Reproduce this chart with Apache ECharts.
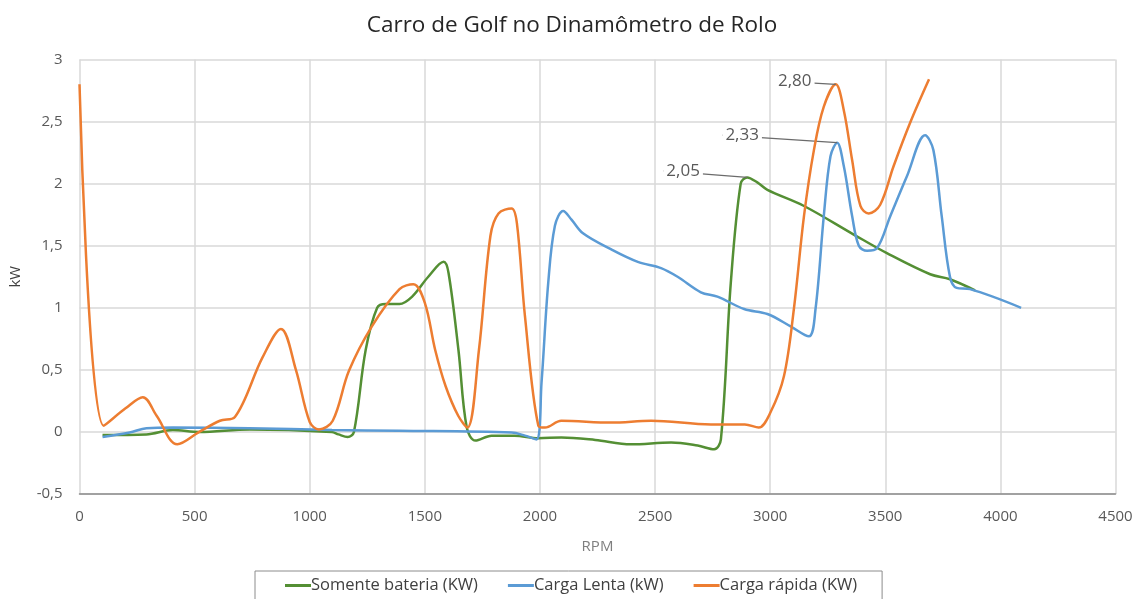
<!DOCTYPE html>
<html>
<head>
<meta charset="utf-8">
<script src="https://cdn.jsdelivr.net/npm/echarts@6/dist/echarts.min.js"></script>
<style>
  html, body { margin: 0; padding: 0; background: #fff; }
  #main { width: 1144px; height: 599px; }
</style>
</head>
<body>
<div id="main"></div>
<script>
// valores (RPM, kW)
const seriesNames = ['Somente bateria (KW)', 'Carga Lenta (kW)', 'Carga rápida (KW)'];
const xTicks = [0, 500, 1000, 1500, 2000, 2500, 3000, 3500, 4000, 4500];
const yTicks = [-0.5, 0, 0.5, 1, 1.5, 2, 2.5, 3];

const bateriaRpm = [100, 290, 405, 520, 740, 1095, 1125, 1165, 1192, 1243, 1293, 1330, 1390, 1445, 1515, 1582, 1603, 1646, 1682, 1720, 1790, 1890, 1993, 2093, 2240, 2395, 2570, 2685, 2757, 2786, 2829, 2872, 2900, 2944, 2988, 3147, 3363, 3507, 3695, 3781, 3890];
const bateriaKw = [-0.025, -0.02, 0.015, 0.0, 0.02, 0.0, -0.02, -0.04, 0.0, 0.66, 1.0, 1.03, 1.03, 1.09, 1.25, 1.37, 1.28, 0.66, 0.035, -0.07, -0.03, -0.03, -0.05, -0.045, -0.065, -0.10, -0.085, -0.11, -0.14, -0.06, 1.2, 2.0, 2.05, 2.01, 1.95, 1.82, 1.59, 1.44, 1.27, 1.23, 1.14];

const lentaRpm = [100, 218, 291, 406, 738, 1097, 1387, 1877, 1935, 1985, 2007, 2036, 2065, 2101, 2137, 2187, 2310, 2425, 2526, 2598, 2699, 2771, 2887, 2988, 3089, 3168, 3197, 3233, 3262, 3291, 3320, 3356, 3385, 3421, 3464, 3522, 3594, 3673, 3709, 3745, 3781, 3810, 3868, 4090];
const lentaKw = [-0.04, -0.005, 0.03, 0.035, 0.03, 0.015, 0.01, -0.005, -0.03, -0.06, 0.4, 1.2, 1.66, 1.78, 1.71, 1.60, 1.47, 1.37, 1.32, 1.25, 1.125, 1.09, 0.99, 0.95, 0.85, 0.77, 0.99, 1.74, 2.22, 2.33, 2.14, 1.74, 1.50, 1.46, 1.48, 1.74, 2.06, 2.39, 2.27, 1.74, 1.25, 1.16, 1.15, 1.0];

const rapidaRpm = [0, 105, 200, 275, 335, 425, 520, 610, 675, 795, 875, 940, 1000, 1040, 1100, 1170, 1270, 1390, 1450, 1500, 1545, 1590, 1645, 1685, 1735, 1785, 1820, 1877, 1900, 1935, 1993, 2022, 2093, 2310, 2483, 2743, 2890, 2950, 3002, 3060, 3103, 3147, 3190, 3233, 3285, 3320, 3356, 3392, 3428, 3478, 3536, 3608, 3690];
const rapidaKw = [2.80, 0.05, 0.19, 0.28, 0.13, -0.10, 0.0, 0.09, 0.12, 0.60, 0.83, 0.50, 0.08, 0.02, 0.09, 0.49, 0.85, 1.15, 1.19, 1.04, 0.66, 0.37, 0.13, 0.035, 0.66, 1.58, 1.76, 1.80, 1.68, 0.93, 0.05, 0.035, 0.09, 0.075, 0.09, 0.06, 0.06, 0.035, 0.16, 0.45, 0.99, 1.74, 2.27, 2.62, 2.80, 2.59, 2.19, 1.82, 1.76, 1.83, 2.14, 2.49, 2.84];

// pontos rotulados (índice no array)
const bateriaLabelIdx = 32;
const lentaLabelIdx = 29;
const rapidaLabelIdx = 44;

const fmt = v => String(v).replace('.', ',');
const fmt2 = v => v.toFixed(2).replace('.', ',');

function pairs(xs, ys, labelIdx) {
  return xs.map((x, i) => {
    if (i !== labelIdx) return [x, ys[i]];
    return {
      value: [x, ys[i]],
      label: { show: true, position: 'top', formatter: p => fmt2(p.value[1]) },
      labelLine: { show: true }
    };
  });
}

const myChart = echarts.init(document.getElementById('main'));
const textColor = '#595959';
const font = 'Open Sans';

const labelCommon = {
  show: false,
  color: textColor,
  fontSize: 17,
  fontFamily: font,
  distance: 0,
  backgroundColor: '#fff',
  padding: [0, 3]
};

function lineSeries(name, color, xs, ys, idx, dx, dy, z) {
  return {
    name: name,
    type: 'line',
    smooth: 0.35,
    symbol: 'circle',
    symbolSize: 0,
    showSymbol: true,
    color: color,
    lineStyle: { width: 2.5 },
    label: labelCommon,
    labelLine: { lineStyle: { color: '#6b6b6b', width: 1.2 } },
    labelLayout: { dx: dx, dy: dy },
    emphasis: { disabled: true },
    data: pairs(xs, ys, idx),
    z: z
  };
}

const option = {
  animation: false,
  title: {
    text: 'Carro de Golf no Dinamômetro de Rolo',
    left: 'center',
    top: 9,
    textStyle: { color: '#262626', fontSize: 22.5, fontWeight: 'normal', fontFamily: font }
  },
  grid: { left: 79.5, right: 28.5, top: 59.5, bottom: 105 },
  legend: {
    data: seriesNames,
    left: 255,
    top: 571,
    padding: [6, 25, 14, 30],
    itemGap: 30,
    itemWidth: 26,
    itemHeight: 3,
    icon: 'rect',
    borderColor: '#8c8c8c',
    borderWidth: 1,
    textStyle: { color: '#404040', fontSize: 16.5, fontFamily: font, padding: [0, 0, 0, -5] }
  },
  xAxis: {
    type: 'value',
    min: xTicks[0],
    max: xTicks[xTicks.length - 1],
    interval: 500,
    name: 'RPM',
    nameLocation: 'middle',
    nameGap: 45,
    nameTextStyle: { color: '#7f7f7f', fontSize: 15, fontFamily: font },
    axisLine: { show: true, onZero: false, lineStyle: { color: '#8c8c8c', width: 1.5 } },
    axisTick: { show: false },
    axisLabel: { color: textColor, fontSize: 15, fontFamily: font, margin: 15, formatter: v => String(v) },
    splitLine: { show: true, lineStyle: { color: '#d9d9d9', width: 1.5 } }
  },
  yAxis: {
    type: 'value',
    min: yTicks[0],
    max: yTicks[yTicks.length - 1],
    interval: 0.5,
    name: 'kW',
    nameLocation: 'middle',
    nameGap: 56,
    nameRotate: 90,
    nameTextStyle: { color: '#404040', fontSize: 15, fontFamily: font },
    axisLine: { show: false },
    axisTick: { show: false },
    axisLabel: { color: textColor, fontSize: 15, fontFamily: font, margin: 17, formatter: fmt },
    splitLine: { show: true, lineStyle: { color: '#d9d9d9', width: 1.5 } }
  },
  series: [
    lineSeries(seriesNames[0], '#548f34', bateriaRpm, bateriaKw, bateriaLabelIdx, -64, 2, 2),
    lineSeries(seriesNames[1], '#5b9bd5', lentaRpm, lentaKw, lentaLabelIdx, -95, 1, 3),
    lineSeries(seriesNames[2], '#ed7d31', rapidaRpm, rapidaKw, rapidaLabelIdx, -41, 5, 4)
  ]
};
myChart.setOption(option);
window.addEventListener('resize', function () {
  myChart.resize();
});
</script>
</body>
</html>
